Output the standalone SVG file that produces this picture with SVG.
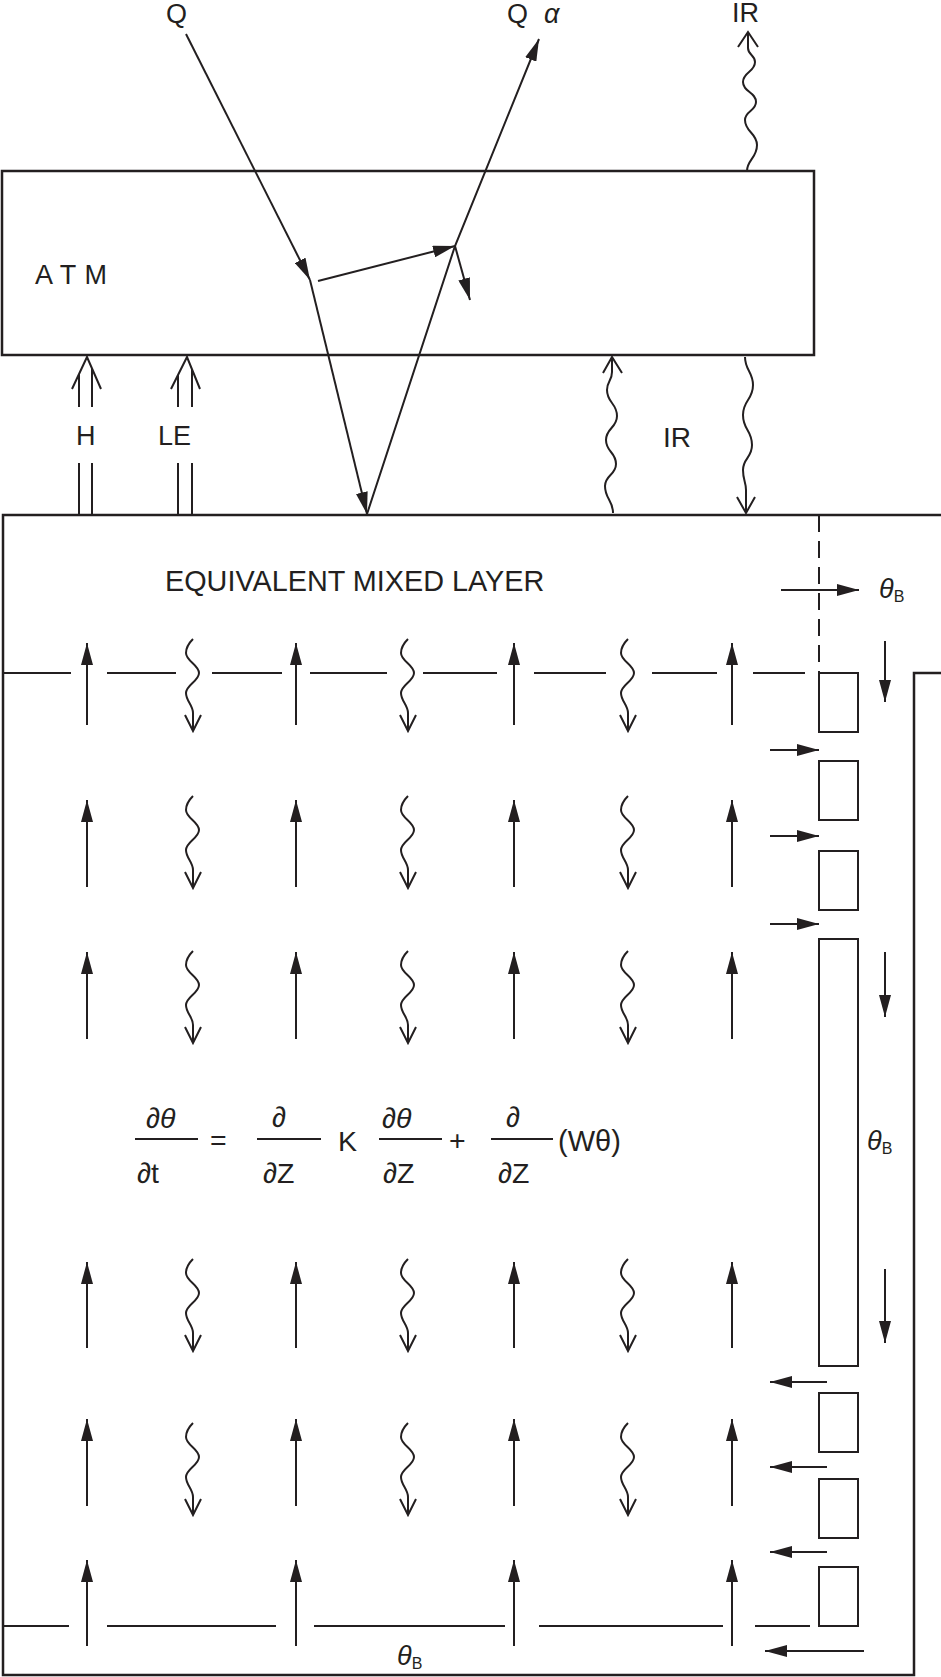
<svg xmlns="http://www.w3.org/2000/svg" xmlns:xlink="http://www.w3.org/1999/xlink" width="941" height="1677" viewBox="0 0 941 1677">
<style>
.ln{stroke:#231f20;stroke-width:2;fill:none}
.bx{stroke:#231f20;stroke-width:2.5;fill:none}
.ar{stroke:#231f20;stroke-width:2;fill:none;marker-end:url(#ah)}
.t{font-family:"Liberation Sans",Arial,sans-serif;fill:#231f20;font-size:27px}
.eq{font-size:28.5px}
.it{font-style:italic}
.sub{font-size:16px}
</style>
<defs>
<marker id="ah" markerUnits="userSpaceOnUse" markerWidth="22" markerHeight="12" refX="22" refY="6" orient="auto" viewBox="0 0 22 12"><path d="M0,0 L22,6 L0,12 z" fill="#231f20"/></marker>
<path id="wv" class="ln" d="M0,0 C-4,4 -7,9 -7,14 C-7,22 6,26 6,34 C6,42 -7,46 -7,54 C-7,62 0,66 0,74 L0,92 M-8,76 L0,92 L8,76"/>
</defs>
<rect width="941" height="1677" fill="#fff"/>

<g id="atm">
<rect class="bx" x="2" y="171" width="812" height="184"/>
<text class="t" x="35" y="284" letter-spacing="0.6">A T M</text>
</g>

<g id="mixed-layer">
<path class="bx" d="M941,515 L3,515 L3,1675 L914,1675 L914,673 L941,673"/>
<text class="t" x="165" y="591" style="font-size:28.8px">EQUIVALENT MIXED LAYER</text>
<g id="layer-lines">
<line class="ln" x1="819" y1="515" x2="819" y2="672" stroke-dasharray="17 9"/>
<path class="ln" d="M3,673H71 M107,673H176 M212,673H282 M310,673H387 M423,673H497 M534,673H606 M652,673H717 M753,673H805"/>
<path class="ln" d="M3,1626H69 M107,1626H276 M314,1626H505 M539,1626H723 M755,1626H810"/>
</g>
</g>

<g id="column">
<rect class="ln" x="819" y="673" width="39" height="59"/>
<rect class="ln" x="819" y="761" width="39" height="59"/>
<rect class="ln" x="819" y="851" width="39" height="59"/>
<rect class="ln" x="819" y="939" width="39" height="427"/>
<rect class="ln" x="819" y="1393" width="39" height="59"/>
<rect class="ln" x="819" y="1479" width="39" height="59"/>
<rect class="ln" x="819" y="1567" width="39" height="59"/>
</g>

<g id="labels">
<text class="t" x="166" y="23">Q</text>
<text class="t" x="507" y="23">Q<tspan class="it" x="544">α</tspan></text>
<text class="t" x="732" y="22">IR</text>
<text class="t" x="76" y="445">H</text>
<text class="t" x="158" y="445">LE</text>
<text class="t" x="663" y="447" style="font-size:28px">IR</text>
<text class="t" x="879" y="598"><tspan class="it">θ</tspan><tspan class="sub" dy="4">B</tspan></text>
<text class="t" x="867" y="1150"><tspan class="it">θ</tspan><tspan class="sub" dy="4">B</tspan></text>
<text class="t" x="397" y="1665"><tspan class="it">θ</tspan><tspan class="sub" dy="4">B</tspan></text>
</g>

<g id="equation">
<text class="t eq" x="146" y="1128">∂<tspan class="it">θ</tspan></text>
<text class="t eq" x="137" y="1183">∂t</text>
<text class="t eq" x="210" y="1150">=</text>
<text class="t eq" x="272" y="1127">∂</text>
<text class="t eq" x="263" y="1183">∂Z</text>
<text class="t eq" x="338" y="1151">K</text>
<text class="t eq" x="382" y="1128">∂<tspan class="it">θ</tspan></text>
<text class="t eq" x="383" y="1183">∂Z</text>
<text class="t eq" x="449" y="1150">+</text>
<text class="t eq" x="506" y="1127">∂</text>
<text class="t eq" x="498" y="1183">∂Z</text>
<text class="t eq" x="558" y="1151" style="font-size:29px">(Wθ)</text>
<path class="ln" d="M135,1139H198 M257,1139H321 M379,1139H442 M491,1139H553"/>
</g>

<g id="connectors">
<line class="ar" x1="186" y1="34" x2="310" y2="280"/>
<line class="ar" x1="310" y1="280" x2="367" y2="514"/>
<polyline class="ar" points="367,514 455,246 539,39"/>
<line class="ar" x1="318" y1="281" x2="455" y2="246"/>
<line class="ar" x1="455" y1="246" x2="470" y2="300"/>
<path class="ln" d="M747,171 C747,160 757,158 757,145 C757,133 745,132 745,120 C745,111 756,111 756,102 C756,92 743,92 743,82 C743,72 755,72 755,62 C755,55 748,55 748,48 L748,32 M738,47 L748,32 L758,47"/>
<path class="ln" d="M613,513 C613,500 605,499 605,486 C605,475 616,475 616,464 C616,452 606,452 606,440 C606,428 617,428 617,416 C617,403 607,403 607,390 C607,381 612,381 612,372 L612,357 M603,373 L612,357 L622,373"/>
<path class="ln" d="M745,357 C745,370 753,372 753,385 C753,400 743,400 743,415 C743,430 752,430 752,445 C752,458 743,458 743,470 C743,480 746,482 746,490 L746,513 M737,497 L746,513 L755,497"/>
<path class="ln" d="M79,515V463 M92,515V463 M79,407V374 M92,407V368 M72,389 L87,357 L101,389"/>
<path class="ln" d="M178,515V463 M192,515V463 M178,407V375 M192,407V369 M171,389 L187,357 L200,389"/>
<line class="ar" x1="781" y1="590" x2="859" y2="590"/>
<line class="ar" x1="885" y1="641" x2="885" y2="702"/>
<line class="ar" x1="885" y1="952" x2="885" y2="1017"/>
<line class="ar" x1="885" y1="1269" x2="885" y2="1343"/>
<line class="ar" x1="770" y1="750" x2="819" y2="750"/>
<line class="ar" x1="770" y1="836" x2="819" y2="836"/>
<line class="ar" x1="770" y1="924" x2="819" y2="924"/>
<line class="ar" x1="827" y1="1382" x2="770" y2="1382"/>
<line class="ar" x1="827" y1="1467" x2="770" y2="1467"/>
<line class="ar" x1="827" y1="1552" x2="770" y2="1552"/>
<line class="ar" x1="864" y1="1651" x2="765" y2="1651"/>
<path class="ar" d="M87,725V643"/><path class="ar" d="M296,725V643"/><path class="ar" d="M514,725V643"/><path class="ar" d="M732,725V643"/>
<path class="ar" d="M87,887V800"/><path class="ar" d="M296,887V800"/><path class="ar" d="M514,887V800"/><path class="ar" d="M732,887V800"/>
<path class="ar" d="M87,1039V952"/><path class="ar" d="M296,1039V952"/><path class="ar" d="M514,1039V952"/><path class="ar" d="M732,1039V952"/>
<path class="ar" d="M87,1348V1262"/><path class="ar" d="M296,1348V1262"/><path class="ar" d="M514,1348V1262"/><path class="ar" d="M732,1348V1262"/>
<path class="ar" d="M87,1506V1419"/><path class="ar" d="M296,1506V1419"/><path class="ar" d="M514,1506V1419"/><path class="ar" d="M732,1506V1419"/>
<path class="ar" d="M87,1646V1560"/><path class="ar" d="M296,1646V1560"/><path class="ar" d="M514,1646V1560"/><path class="ar" d="M732,1646V1560"/>
<use xlink:href="#wv" x="193" y="639"/><use xlink:href="#wv" x="408" y="639"/><use xlink:href="#wv" x="628" y="639"/>
<use xlink:href="#wv" x="193" y="796"/><use xlink:href="#wv" x="408" y="796"/><use xlink:href="#wv" x="628" y="796"/>
<use xlink:href="#wv" x="193" y="951"/><use xlink:href="#wv" x="408" y="951"/><use xlink:href="#wv" x="628" y="951"/>
<use xlink:href="#wv" x="193" y="1259"/><use xlink:href="#wv" x="408" y="1259"/><use xlink:href="#wv" x="628" y="1259"/>
<use xlink:href="#wv" x="193" y="1423"/><use xlink:href="#wv" x="408" y="1423"/><use xlink:href="#wv" x="628" y="1423"/>
</g>
</svg>
